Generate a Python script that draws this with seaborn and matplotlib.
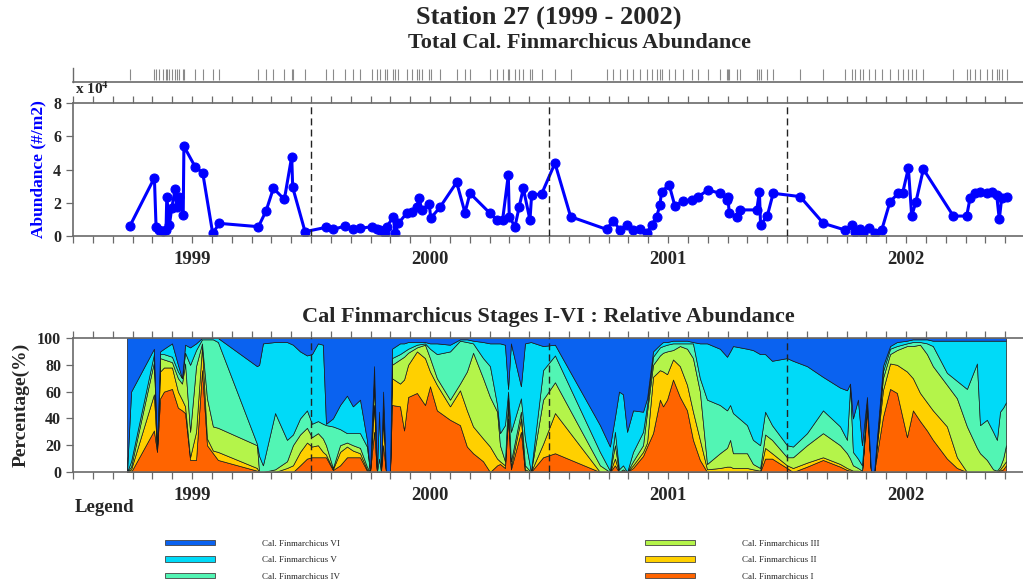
import numpy as np
import matplotlib
matplotlib.use("Agg")
import matplotlib.pyplot as plt
import seaborn as sns
from matplotlib.patches import Patch

# ---- total abundance (x 10^4 ind/m2) at each sampling date (decimal year)
sample_year = [
    1999.239, 1999.342, 1999.349, 1999.363, 1999.377, 1999.391, 1999.394, 1999.405, 1999.415, 1999.429,
    1999.436, 1999.447, 1999.463, 1999.466, 1999.513, 1999.545, 1999.587, 1999.615, 1999.779, 1999.811,
    1999.842, 1999.888, 1999.919, 1999.923, 1999.975, 2000.063, 2000.094, 2000.143, 2000.175, 2000.206,
    2000.255, 2000.276, 2000.290, 2000.311, 2000.318, 2000.346, 2000.353, 2000.367, 2000.402, 2000.423,
    2000.444, 2000.455, 2000.465, 2000.497, 2000.503, 2000.542, 2000.612, 2000.647, 2000.668, 2000.752,
    2000.780, 2000.805, 2000.829, 2000.833, 2000.857, 2000.875, 2000.892, 2000.920, 2000.927, 2000.969,
    2001.025, 2001.091, 2001.242, 2001.270, 2001.298, 2001.326, 2001.354, 2001.382, 2001.411, 2001.431,
    2001.452, 2001.466, 2001.473, 2001.505, 2001.529, 2001.564, 2001.599, 2001.627, 2001.669, 2001.718,
    2001.746, 2001.752, 2001.757, 2001.789, 2001.803, 2001.873, 2001.884, 2001.889, 2001.917, 2001.942,
    2002.055, 2002.153, 2002.244, 2002.272, 2002.286, 2002.307, 2002.321, 2002.346, 2002.370, 2002.398,
    2002.433, 2002.468, 2002.486, 2002.510, 2002.524, 2002.542, 2002.573, 2002.699, 2002.755, 2002.769,
    2002.790, 2002.811, 2002.839, 2002.860, 2002.881, 2002.892, 2002.902, 2002.923,
]
abundance = [
    0.60, 3.50, 0.56, 0.36, 0.30, 0.36, 2.37, 0.66, 1.70, 2.80,
    1.77, 2.37, 1.26, 5.40, 4.17, 3.80, 0.16, 0.76, 0.56, 1.50,
    2.87, 2.20, 4.78, 2.93, 0.26, 0.52, 0.40, 0.60, 0.40, 0.46,
    0.56, 0.40, 0.36, 0.16, 0.56, 1.13, 0.16, 0.76, 1.37, 1.47,
    1.77, 2.27, 1.57, 1.93, 1.07, 1.73, 3.23, 1.40, 2.57, 1.37,
    0.96, 0.96, 3.67, 1.16, 0.56, 1.77, 2.87, 0.96, 2.47, 2.53,
    4.38, 1.16, 0.40, 0.92, 0.36, 0.66, 0.36, 0.40, 0.16, 0.66,
    1.13, 1.87, 2.67, 3.07, 1.80, 2.13, 2.15, 2.37, 2.77, 2.57,
    2.17, 2.37, 1.37, 1.13, 1.57, 1.57, 2.67, 0.66, 1.20, 2.57,
    2.37, 0.76, 0.36, 0.66, 0.26, 0.40, 0.20, 0.46, 0.16, 0.36,
    2.07, 2.57, 2.60, 4.08, 1.20, 2.07, 4.02, 1.20, 1.20, 2.27,
    2.57, 2.67, 2.57, 2.67, 2.47, 1.00, 2.27, 2.37,
]

# ---- stage composition: cumulative percentage of stages I..k at each date
comp_year = [
    1999.227, 1999.244, 1999.340, 1999.353, 1999.366, 1999.382, 1999.416, 1999.441, 1999.458, 1999.471,
    1999.492, 1999.517, 1999.542, 1999.563, 1999.588, 1999.609, 1999.773, 1999.782, 1999.798, 1999.849,
    1999.899, 1999.924, 1999.954, 1999.983, 2000.004, 2000.029, 2000.050, 2000.063, 2000.092, 2000.122,
    2000.151, 2000.176, 2000.206, 2000.235, 2000.248, 2000.265, 2000.277, 2000.286, 2000.294, 2000.303,
    2000.315, 2000.332, 2000.340, 2000.374, 2000.391, 2000.408, 2000.445, 2000.479, 2000.500, 2000.529,
    2000.584, 2000.626, 2000.655, 2000.681, 2000.723, 2000.752, 2000.782, 2000.794, 2000.815, 2000.828,
    2000.840, 2000.882, 2000.899, 2000.924, 2000.975, 2001.025, 2001.214, 2001.256, 2001.277, 2001.294,
    2001.311, 2001.328, 2001.353, 2001.395, 2001.412, 2001.437, 2001.466, 2001.479, 2001.496, 2001.521,
    2001.550, 2001.580, 2001.605, 2001.634, 2001.664, 2001.718, 2001.748, 2001.761, 2001.773, 2001.832,
    2001.857, 2001.887, 2001.908, 2001.937, 2002.000, 2002.025, 2002.084, 2002.151, 2002.223, 2002.252,
    2002.265, 2002.277, 2002.298, 2002.315, 2002.336, 2002.353, 2002.366, 2002.403, 2002.433, 2002.462,
    2002.504, 2002.529, 2002.559, 2002.588, 2002.613, 2002.672, 2002.714, 2002.756, 2002.798, 2002.811,
    2002.840, 2002.866, 2002.882, 2002.895, 2002.908, 2002.920,
]
cum_I = [
    0, 0, 31, 15, 55, 60, 62, 48, 46, 44,
    9, 9, 76, 20, 14, 9, 1, 0, 0, 0,
    0, 0, 5, 10, 11, 11, 11, 11, 1.5, 5,
    11, 11, 11, 1, 0, 30, 0, 0, 0, 20,
    0, 0, 50, 49, 31, 56, 59, 50, 64, 46,
    39, 35, 19, 14, 8, 0, 5, 6, 3, 40,
    2, 30, 0, 0, 11, 14, 0, 0, 5, 0,
    0, 0, 3, 12, 19, 29, 54, 49, 54, 69,
    56, 46, 24, 9, 0, 0, 0, 0, 0, 0,
    0, 0, 10, 10, 3, 0, 4, 9, 4, 1.5,
    1, 0, 0, 0, 46, 0, 0, 41, 62, 59,
    26, 46, 38, 31, 24, 10, 3, 0, 0, 0,
    0, 0, 0, 1, 2, 5,
]
cum_II = [
    0, 2, 58, 16, 75, 78, 78, 60, 54, 49,
    11, 30, 94, 25, 16, 15, 3, 0, 0, 0,
    3, 5, 15, 22, 19, 20, 15, 13, 2, 15,
    19, 16, 14, 2, 0, 50, 0, 0, 0, 40,
    0, 0, 70, 66, 69, 80, 90, 85, 75, 65,
    49, 61, 46, 34, 25, 19, 10, 8, 5, 50,
    4, 40, 2, 0, 21, 44, 0, 0, 10, 0,
    1, 0, 5, 15, 22, 71, 76, 75, 73, 84,
    79, 65, 45, 24, 2, 3, 4, 4, 3, 3,
    2, 1, 18, 14, 5, 3, 7, 11, 6, 3,
    2, 1, 1, 0, 50, 0, 0, 61, 81, 80,
    75, 70, 59, 52, 46, 34, 11, 0, 0, 0,
    0, 0, 0, 2, 5, 8,
]
cum_III = [
    0, 4, 82, 17, 85, 84, 82, 70, 66, 81,
    30, 79, 96, 55, 34, 33, 20, 0, 0, 2,
    8, 20, 28, 33, 26, 29, 25, 20, 3, 20,
    22, 20, 18, 4, 0, 65, 0, 0, 0, 50,
    0, 0, 80, 84, 86, 89, 93, 95, 85, 70,
    54, 66, 75, 89, 70, 56, 45, 20, 8, 55,
    8, 45, 5, 0, 54, 67, 5, 0, 20, 0,
    2, 0, 8, 20, 45, 80, 87, 89, 90, 91,
    94, 92, 85, 60, 6, 14, 18, 24, 14, 14,
    6, 3, 28, 24, 11, 11, 20, 29, 20, 14,
    10, 5, 3, 1, 52, 0, 0, 70, 88, 91,
    94, 94, 95, 88, 79, 65, 55, 34, 18, 14,
    9, 2, 1, 4, 10, 20,
]
cum_IV = [
    0, 8, 88, 17, 88, 88, 86, 75, 70, 89,
    80, 91, 99, 99, 99, 97, 21, 12, 5, 44,
    24, 28, 40, 46, 36, 38, 36, 35, 34, 32,
    29, 29, 29, 19, 0, 72, 0, 10, 0, 55,
    0, 0, 85, 88, 90, 92, 95, 96, 92, 88,
    90, 98, 97, 96, 85, 79, 50, 29, 35, 60,
    30, 55, 25, 0, 76, 87, 15, 1, 30, 2,
    5, 0, 15, 30, 50, 86, 93, 94, 95, 96,
    96, 96, 96, 70, 54, 50, 46, 50, 44, 35,
    24, 20, 45, 35, 20, 19, 29, 46, 34, 24,
    64, 15, 10, 5, 54, 0, 0, 75, 92, 94,
    96, 97, 97, 96, 94, 74, 68, 62, 81, 35,
    39, 30, 24, 45, 48, 52,
]
cum_V = [
    0, 60, 92, 18, 90, 92, 96, 80, 70, 95,
    93, 96, 100, 100, 100, 100, 79, 80, 96, 97,
    97, 95, 90, 87, 88, 96, 95, 36, 40, 50,
    57, 49, 54, 24, 0, 79, 0, 45, 0, 60,
    0, 0, 92, 96, 96, 97, 97, 97, 96, 96,
    95, 99, 99, 98, 97, 96, 96, 96, 95, 62,
    96, 64, 96, 97, 94, 95, 35, 19, 41, 60,
    58, 30, 46, 45, 55, 90, 95, 97, 97, 98,
    98, 98, 97, 96, 96, 92, 86, 90, 94, 92,
    91, 88, 88, 83, 85, 83, 79, 71, 63, 61,
    66, 40, 54, 20, 56, 0, 0, 79, 94, 97,
    98, 99, 99, 99, 98, 98, 98, 98, 98, 98,
    98, 98, 98, 98, 98, 98,
]

stage_labels = ["Cal. Finmarchicus I", "Cal. Finmarchicus II", "Cal. Finmarchicus III",
                "Cal. Finmarchicus IV", "Cal. Finmarchicus V", "Cal. Finmarchicus VI"]
stage_colors = ["#FF6400", "#FFD000", "#B4F44A", "#52F5B4", "#00DAF8", "#0A62F0"]
years = [1999, 2000, 2001, 2002]

# ---- style
sns.set_style("ticks")
plt.rcParams["font.family"] = ["Liberation Serif", "DejaVu Serif"]
plt.rcParams["font.weight"] = "bold"
plt.rcParams["mathtext.fontset"] = "stix"

W, H = 1023, 586
fig = plt.figure(figsize=(W / 100, H / 100), dpi=100)


def box(left, top, right, bottom):
    return [left / W, 1 - bottom / H, (right - left) / W, (bottom - top) / H]


ax_s = fig.add_axes(box(73, 68, 1025, 82))
ax1 = fig.add_axes(box(73, 103, 1025, 236))
ax2 = fig.add_axes(box(73, 338, 1025, 472))

x0, x1 = years[0], years[-1] + 1
months = x0 + np.arange(0, 12 * len(years) + 1) / 12.0
month_labels = ["" for _ in months]
for k, y in enumerate(years):
    month_labels[12 * k + 6] = str(y)

spine_col = "#6a6a6a"


def style_time_axis(ax):
    ax.set_xlim(x0, x1)
    ax.set_xticks(months)
    ax.set_xticklabels(month_labels)
    ax.tick_params(axis="x", which="major", direction="out", length=5, width=0.9,
                   color=spine_col, top=True, bottom=True, labelsize=13.5, pad=6)
    ax.tick_params(axis="y", direction="out", length=5, width=0.9, color=spine_col,
                   labelsize=11.5, left=True, right=False)
    for side in ("top", "bottom", "left"):
        ax.spines[side].set_visible(True)
        ax.spines[side].set_color(spine_col)
        ax.spines[side].set_linewidth(1.2)
    ax.spines["right"].set_visible(False)
    for y in years[1:]:
        ax.axvline(y, color="#222222", lw=1.0, ls=(0, (5, 3)), zorder=5)


# ---- sampling-date strip
ax_s.vlines(sample_year, 0.15, 0.95, color="#8a8a8a", lw=0.8)
ax_s.set_xlim(x0, x1)
ax_s.set_ylim(0, 1)
ax_s.set_xticks([])
ax_s.set_yticks([])
for side in ("top", "right"):
    ax_s.spines[side].set_visible(False)
ax_s.spines["bottom"].set_color(spine_col)
ax_s.spines["bottom"].set_linewidth(1.2)
ax_s.spines["left"].set_color(spine_col)
ax_s.spines["left"].set_linewidth(1.0)
ax_s.patch.set_alpha(0)

# ---- total abundance
sns.lineplot(x=sample_year, y=abundance, ax=ax1, color="#0000FF", lw=2.2,
             marker="o", markersize=6.5, markeredgecolor="#0000FF",
             estimator=None, sort=True)
style_time_axis(ax1)
ax1.set_ylim(0, 8)
ax1.set_yticks([0, 2, 4, 6, 8])
ax1.set_ylabel("Abundance (#/m2)", color="#0000FF", fontsize=12.5, fontweight="bold")
ax1.yaxis.set_label_coords(-0.028, 0.5)
fig.text(75 / W, 1 - 89 / H, r"x 10$^{4}$", fontsize=11, ha="left", va="center")

# ---- relative abundance of stages
cum = np.vstack([np.zeros(len(comp_year)), cum_I, cum_II, cum_III, cum_IV, cum_V,
                 np.full(len(comp_year), 100.0)])
shares = np.clip(np.diff(cum, axis=0), 0, None)
ax2.stackplot(comp_year, shares, colors=stage_colors, edgecolor="#1a1a1a", linewidth=0.5)
style_time_axis(ax2)
ax2.set_ylim(0, 100)
ax2.set_yticks([0, 20, 40, 60, 80, 100])
ax2.set_ylabel("Percentage(%)", fontsize=14, fontweight="bold")
ax2.yaxis.set_label_coords(-0.046, 0.5)

# ---- titles
fig.text(549 / W, 1 - 17 / H, "Station 27 (1999 - 2002)", fontsize=19, ha="center", va="center")
fig.text(580 / W, 1 - 43 / H, "Total Cal. Finmarchicus Abundance", fontsize=16,
         ha="center", va="center")
fig.text(548 / W, 1 - 317 / H, "Cal Finmarchicus Stages I-VI : Relative Abundance",
         fontsize=16, ha="center", va="center")
fig.text(75 / W, 1 - 507 / H, "Legend", fontsize=13.5, ha="left", va="center")

# ---- legend in two columns
handles = [Patch(facecolor=c, edgecolor="#444444", linewidth=0.6) for c in stage_colors]
leg_kw = dict(frameon=False, loc="upper left", borderpad=0, handlelength=5.6,
              handleheight=0.6, handletextpad=5.15, labelspacing=0.95,
              prop={"family": "Liberation Serif", "size": 6.5, "weight": "normal"})
order_left = [5, 4, 3]
order_right = [2, 1, 0]
fig.legend([handles[i] for i in order_left], [stage_labels[i] for i in order_left],
           bbox_to_anchor=(160 / W, 1 - 535 / H), **leg_kw)
fig.legend([handles[i] for i in order_right], [stage_labels[i] for i in order_right],
           bbox_to_anchor=(640 / W, 1 - 535 / H), **leg_kw)

fig.savefig("out.png", dpi=100)
